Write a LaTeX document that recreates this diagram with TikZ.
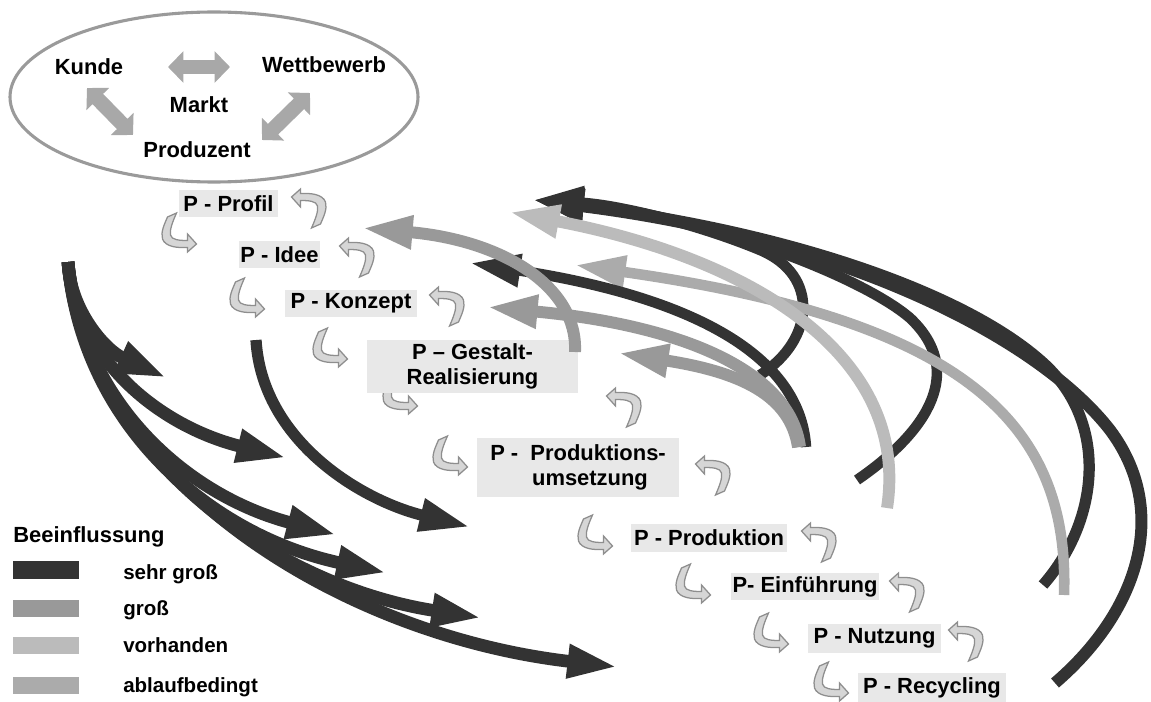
\documentclass[tikz,border=0pt]{standalone}
\usepackage{fontspec}
\setmainfont{Liberation Sans}
\usepackage{tikz}
\usetikzlibrary{arrows.meta}
\definecolor{inflstrong}{HTML}{333333}
\definecolor{inflbig}{HTML}{999999}
\definecolor{inflsome}{HTML}{BBBBBB}
\definecolor{inflflow}{HTML}{ABABAB}
\definecolor{phasefill}{HTML}{E8E8E8}
\definecolor{hookfill}{HTML}{D6D6D6}
\definecolor{hookline}{HTML}{8E8E8E}
\definecolor{ringgray}{HTML}{9A9A9A}
\definecolor{marketgray}{HTML}{A8A8A8}

\tikzset{
    hook/.pic={
        \filldraw[fill=hookfill, draw=hookline, line width=0.9pt]
            (-11.5,-15) -- (-2.5,-19)
            .. controls (-6.5,-10) and (-9.5,-2) .. (-8.5,3)
            .. controls (-7.5,8) and (0.5,8.5) .. (8.5,8.5)
            -- (8.5,2) -- (17.5,12) -- (8.5,20) -- (8.5,15.5)
            .. controls (-1.5,16) and (-13.5,15) .. (-16.5,7)
            .. controls (-18.5,0) and (-14.5,-8) .. (-11.5,-15) -- cycle;
    }
}

\begin{document}
\begin{tikzpicture}[
    x=0.025cm, y=-0.025cm,
    mtext/.style={
        inner sep=0pt,
        font=\bfseries\fontsize{15.6}{17.5}\selectfont
    },
    phase/.style={
        rectangle,
        fill=phasefill,
        inner sep=0pt,
        align=center,
        font=\bfseries\fontsize{15.6}{17.5}\selectfont
    },
    legtext/.style={
        inner sep=0pt,
        anchor=base west,
        font=\bfseries\fontsize{14.6}{16}\selectfont
    },
    swatch/.style={
        rectangle,
        minimum width=1.65cm,
        minimum height=0.44cm,
        inner sep=0pt
    },
    marketarrow/.style={
        {Triangle[length=11pt, width=22pt]}-{Triangle[length=11pt, width=22pt]},
        line width=10.5pt,
        draw=marketgray
    },
    infl/.style={-{Triangle[length=36pt, width=22pt]}},
    verystrong/.style={infl, draw=inflstrong, line width=9pt},
    strong/.style={infl, draw=inflbig, line width=8.5pt},
    present/.style={infl, draw=inflsome, line width=8.5pt},
    sequential/.style={infl, draw=inflflow, line width=7.5pt}
]
    \useasboundingbox (0,0) rectangle (1151,702);

    % Market
    \draw[ringgray, line width=2.2pt] (214,97) ellipse [x radius=204, y radius=85];
    \node[mtext] (kunde) at (89,67) {Kunde};
    \node[mtext] (wettbewerb) at (324,65) {Wettbewerb};
    \node[mtext] (markt) at (199,105) {Markt};
    \node[mtext] (produzent) at (197,150) {Produzent};

    \coordinate (kw1) at (168,67);  \coordinate (kw2) at (230,67);
    \coordinate (kp1) at (87,88);   \coordinate (kp2) at (133,135);
    \coordinate (wp1) at (310,93);  \coordinate (wp2) at (262,140);
    \draw[marketarrow] (kw1) -- (kw2);
    \draw[marketarrow] (kp1) -- (kp2);
    \draw[marketarrow] (wp1) -- (wp2);

    % Hooks between the phases
    \foreach \x/\y in {179/232, 247/297, 330/347, 400/394, 450/455,
                       595/534, 693/583, 771/632, 831/681}
        \pic at (\x,\y) {hook};
    \foreach \x/\y in {309/209, 357/258, 447/307, 624/408, 713/476,
                       819/543, 907/593, 966/642}
        \pic[rotate=180] at (\x,\y) {hook};

    % Phases
    \node[phase, minimum width=2.48cm, minimum height=0.68cm] (profil) at (228.5,203.5) {P - Profil};
    \node[phase, minimum width=2.03cm, minimum height=0.68cm] (idee) at (279.5,254.5) {P - Idee};
    \node[phase, minimum width=3.3cm, minimum height=0.68cm] (konzept) at (351,303.5) {P - Konzept};
    \node[phase, minimum width=5.28cm, minimum height=1.33cm] (gestalt) at (472.5,366.5) {P -- Gestalt-\\Realisierung};
    \node[phase, minimum width=5.05cm, minimum height=1.48cm] (umsetzung) at (578,467.5) {P -\ \ Produktions-\\\hspace*{0.6cm}umsetzung};
    \node[phase, minimum width=3.9cm, minimum height=0.7cm] (produktion) at (709,538) {P - Produktion};
    \node[phase, minimum width=3.7cm, minimum height=0.68cm] (einfuehrung) at (805,586.5) {P- Einführung};
    \node[phase, minimum width=3.33cm, minimum height=0.73cm] (nutzung) at (874.5,638.5) {P - Nutzung};
    \node[phase, minimum width=3.7cm, minimum height=0.73cm] (recycling) at (932,687.5) {P - Recycling};

    % Influence from the left
    \coordinate (src) at (68,262);
    \draw[verystrong] (src) .. controls (70,310) and (105,350) .. (167,378);
    \draw[verystrong] (src) .. controls (75,355) and (155,425) .. (287,458);
    \draw[verystrong] (src) .. controls (80,400) and (185,495) .. (337,535);
    \draw[verystrong] (src) .. controls (82,425) and (210,535) .. (387,573);
    \draw[verystrong] (src) .. controls (85,450) and (270,585) .. (482,618);
    \draw[verystrong] (src) .. controls (90,480) and (340,635) .. (618,667);
    \draw[verystrong, line width=8pt] (256,340) .. controls (262,440) and (360,500) .. (470,527);

    % Influence back from the right
    \coordinate (toptip) at (533,200);
    \draw[verystrong, line width=8.5pt] (1055,683) .. controls (1140,610) and (1170,510) .. (1110,430)
        .. controls (1040,340) and (850,240) .. (toptip);
    \draw[verystrong, line width=8pt] (1043,585) .. controls (1100,520) and (1110,420) .. (1040,360)
        .. controls (960,290) and (780,230) .. (toptip);
    \draw[verystrong, line width=7.5pt] (857,480) .. controls (930,430) and (965,370) .. (910,318)
        .. controls (860,275) and (700,215) .. (toptip);
    \draw[verystrong, line width=7.5pt] (760,375) .. controls (815,340) and (820,275) .. (760,250)
        .. controls (700,225) and (620,205) .. (toptip);
    \draw[sequential] (1064,595) .. controls (1070,420) and (960,320) .. (575,265);
    \draw[present] (887,508) .. controls (910,360) and (760,260) .. (509,212);
    \draw[verystrong, line width=7.5pt] (806,447) .. controls (800,350) and (680,295) .. (470,263);
    \draw[strong] (800,447) .. controls (790,370) and (680,325) .. (487,307);
    \draw[strong] (798,447) .. controls (790,395) and (740,372) .. (618,353);
    \draw[strong] (575,352) .. controls (578,285) and (500,240) .. (362,228);

    % Legend
    \node[legtext, font=\bfseries\fontsize{15.6}{17.5}\selectfont] (beeinfl) at (13,542) {Beeinflussung};
    \node[swatch, fill=inflstrong] (sw1) at (46,570) {};
    \node[swatch, fill=inflbig] (sw2) at (46,608.5) {};
    \node[swatch, fill=inflsome] (sw3) at (46,645.5) {};
    \node[swatch, fill=inflflow] (sw4) at (46,685.5) {};
    \node[legtext] (lg1) at (123,579) {sehr groß};
    \node[legtext] (lg2) at (123,615) {groß};
    \node[legtext] (lg3) at (123,652) {vorhanden};
    \node[legtext] (lg4) at (123,692) {ablaufbedingt};
\end{tikzpicture}
\end{document}
